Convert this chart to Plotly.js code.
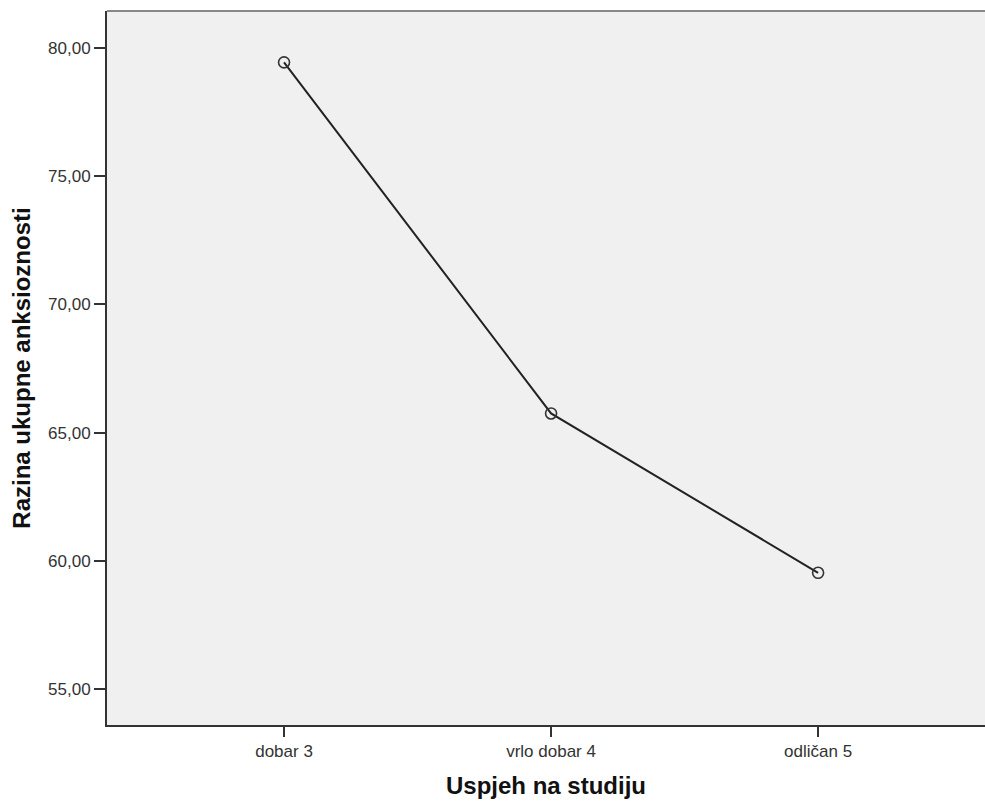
<!DOCTYPE html>
<html>
<head>
<meta charset="utf-8">
<script src="https://cdn.plot.ly/plotly-3.0.1.min.js"></script>
<style>html,body{margin:0;padding:0;background:#fff;}#chart{width:985px;height:801px;}</style>
</head>
<body>
<div id="chart"></div>
<script>
var categories = ['dobar 3', 'vrlo dobar 4', 'odličan 5'];
var meanValues = [79.43, 65.75, 59.54];
var yTickValues = [55, 60, 65, 70, 75, 80];
var xTitle = 'Uspjeh na studiju';
var yTitle = 'Razina ukupne anksioznosti';

var trace = {
  x: categories,
  y: meanValues,
  type: 'scatter',
  mode: 'lines+markers',
  line: {color: '#222222', width: 2},
  marker: {symbol: 'circle-open', size: 11, color: '#333333', line: {width: 1.6, color: '#333333'}},
  hoverinfo: 'skip'
};

var layout = {
  width: 985,
  height: 801,
  margin: {l: 107, r: 0, t: 11, b: 76},
  paper_bgcolor: '#ffffff',
  plot_bgcolor: '#f0f0f0',
  separators: ',.',
  showlegend: false,
  font: {family: 'Liberation Sans, Arial, sans-serif', color: '#333333'},
  xaxis: {
    type: 'category',
    range: [-0.663, 2.625],
    showgrid: false,
    zeroline: false,
    showline: true,
    linecolor: '#333333',
    linewidth: 2,
    ticks: 'outside',
    ticklen: 10,
    tickwidth: 2,
    tickcolor: '#333333',
    tickfont: {size: 17, color: '#333333'},
    title: {text: xTitle, font: {size: 24, color: '#111111', family: 'Liberation Sans, Arial, sans-serif', weight: 'bold'}, standoff: 17}
  },
  yaxis: {
    range: [53.61, 81.43],
    tickvals: yTickValues,
    tickformat: '.2f',
    showgrid: false,
    zeroline: false,
    showline: true,
    linecolor: '#333333',
    linewidth: 2,
    ticks: 'outside',
    ticklen: 11,
    tickwidth: 2,
    tickcolor: '#333333',
    tickfont: {size: 17, color: '#333333'},
    title: {text: yTitle, font: {size: 24, color: '#111111', family: 'Liberation Sans, Arial, sans-serif', weight: 'bold'}, standoff: 11}
  },
  shapes: [{
    type: 'line', xref: 'paper', yref: 'paper',
    x0: 0, x1: 1, y0: 1, y1: 1,
    line: {color: '#888888', width: 2}
  }]
};

Plotly.newPlot('chart', [trace], layout, {displayModeBar: false, staticPlot: true});
</script>
</body>
</html>
